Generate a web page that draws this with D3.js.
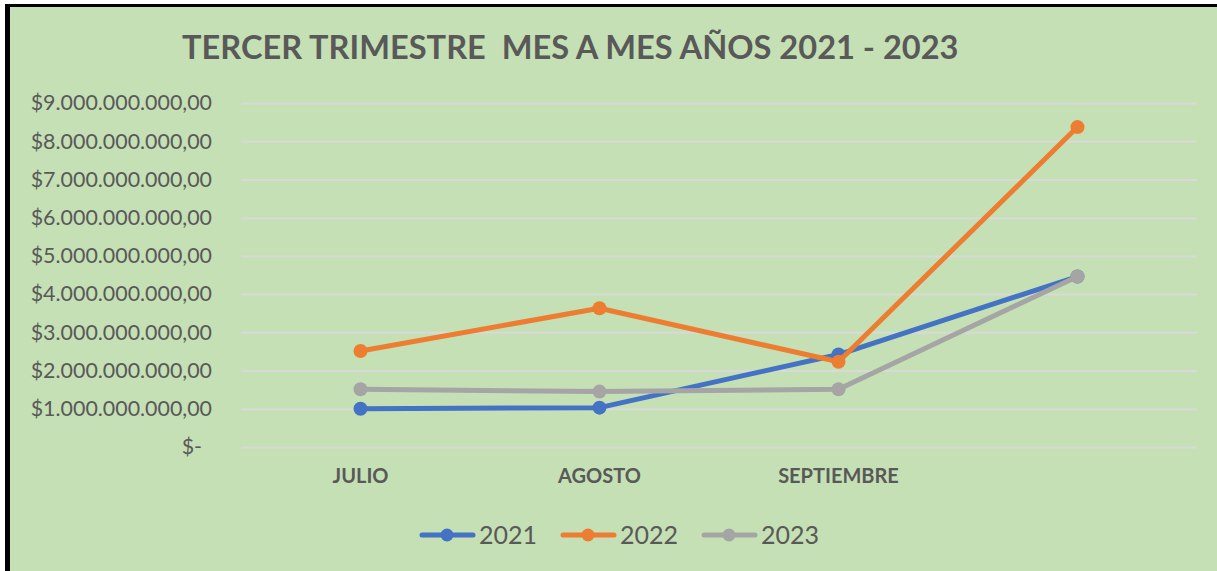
<!DOCTYPE html>
<html>
<head>
<meta charset="utf-8">
<script src="https://cdn.jsdelivr.net/npm/d3@7"></script>
<style>
  html, body { margin: 0; padding: 0; background: #fff; }
  svg { display: block; }
</style>
</head>
<body>
<svg id="chart"></svg>
<script>
// data
const months = ["JULIO", "AGOSTO", "SEPTIEMBRE", ""];
const years = ["2021", "2022", "2023"];
const values2021 = [1.00e9, 1.03e9, 2.42e9, 4.46e9];
const values2022 = [2.51e9, 3.63e9, 2.23e9, 8.37e9];
const values2023 = [1.51e9, 1.45e9, 1.51e9, 4.46e9];
const yTicks = [0, 1e9, 2e9, 3e9, 4e9, 5e9, 6e9, 7e9, 8e9, 9e9];
const colors = ["#4472C4", "#ED7D31", "#A5A5A5"];

const series = [values2021, values2022, values2023].map((v, i) => ({
    name: years[i], color: colors[i], values: v
}));

let svg_width = 1217, svg_height = 571;
let plotLeft = 241, plotRight = 1197, plotTop = 103, plotBottom = 447;

const svg = d3.select('#chart')
    .attr("width", svg_width)
    .attr("height", svg_height);

// frame: black edge on top and left, green fill
svg.append('rect').attr('x', 5).attr('y', 4)
    .attr('width', svg_width - 5).attr('height', svg_height - 4)
    .attr('fill', '#000');
svg.append('rect').attr('x', 10).attr('y', 7)
    .attr('width', svg_width - 10).attr('height', svg_height - 7)
    .attr('fill', '#C5E0B4');

let x = d3.scaleBand()
    .domain(months)
    .range([plotLeft, plotRight]);

let y = d3.scaleLinear()
    .domain([0, 9e9])
    .range([plotBottom, plotTop]);

const es = d3.formatLocale({decimal: ",", thousands: ".", grouping: [3], currency: ["$", ""]});
const money = es.format("$,.2f");

// gridlines
svg.append('g')
    .attr('transform', `translate(${plotLeft},0)`)
    .call(d3.axisLeft(y).tickValues(yTicks).tickSize(-(plotRight - plotLeft)).tickFormat(""))
    .call(g => g.select('.domain').remove())
    .call(g => g.selectAll('line').attr('stroke', '#D9D9D9').attr('stroke-width', 2));

// y labels
svg.append('g')
    .attr('transform', `translate(${plotLeft},0)`)
    .call(d3.axisLeft(y).tickValues(yTicks).tickSize(0).tickPadding(29)
        .tickFormat(d => d === 0 ? "$-" : money(d)))
    .call(g => g.select('.domain').remove())
    .call(g => g.selectAll('text')
        .attr('font-family', 'Lato, sans-serif')
        .attr('font-size', 21.4)
        .attr('fill', '#595959')
        .attr('dx', d => d === 0 ? -10 : 0));

// x labels
svg.append('g')
    .attr('transform', `translate(0,${plotBottom})`)
    .call(d3.axisBottom(x).tickSize(0).tickPadding(22))
    .call(g => g.select('.domain').remove())
    .call(g => g.selectAll('text')
        .attr('font-family', 'Lato, sans-serif')
        .attr('font-weight', 'bold')
        .attr('font-size', 20)
        .attr('fill', '#595959'));

let lineGenerator = d3.line()
    .x((d, i) => x(months[i]) + x.bandwidth() / 2)
    .y(d => y(d));

series.forEach(s => {
    const g = svg.append('g');
    g.append('path')
        .attr('fill', 'none')
        .attr('stroke', s.color)
        .attr('stroke-width', 5)
        .attr('stroke-linejoin', 'round')
        .attr('d', lineGenerator(s.values));
    g.selectAll('circle')
        .data(s.values).enter().append('circle')
        .attr('r', 7).attr('fill', s.color)
        .attr('cx', (d, i) => x(months[i]) + x.bandwidth() / 2)
        .attr('cy', d => y(d));
});

// title
svg.append('text')
    .attr('x', 182).attr('y', 59)
    .attr('font-family', 'Lato, sans-serif')
    .attr('font-weight', 'bold')
    .attr('font-size', 32.6)
    .attr('fill', '#595959')
    .attr('xml:space', 'preserve')
    .text("TERCER TRIMESTRE  MES A MES AÑOS 2021 - 2023");

// legend
const legend = svg.append('g').attr('transform', 'translate(420,535)');
const item = legend.selectAll('g')
    .data(series).enter().append('g')
    .attr('transform', (d, i) => `translate(${i * 141},0)`);
item.append('line')
    .attr('x1', 2).attr('x2', 53)
    .attr('stroke', d => d.color).attr('stroke-width', 5)
    .attr('stroke-linecap', 'round');
item.append('circle')
    .attr('cx', 27).attr('r', 6.5).attr('fill', d => d.color);
item.append('text')
    .attr('x', 59).attr('y', 9)
    .attr('font-family', 'Lato, sans-serif')
    .attr('font-size', 25)
    .attr('fill', '#595959')
    .text(d => d.name);
</script>
</body>
</html>
